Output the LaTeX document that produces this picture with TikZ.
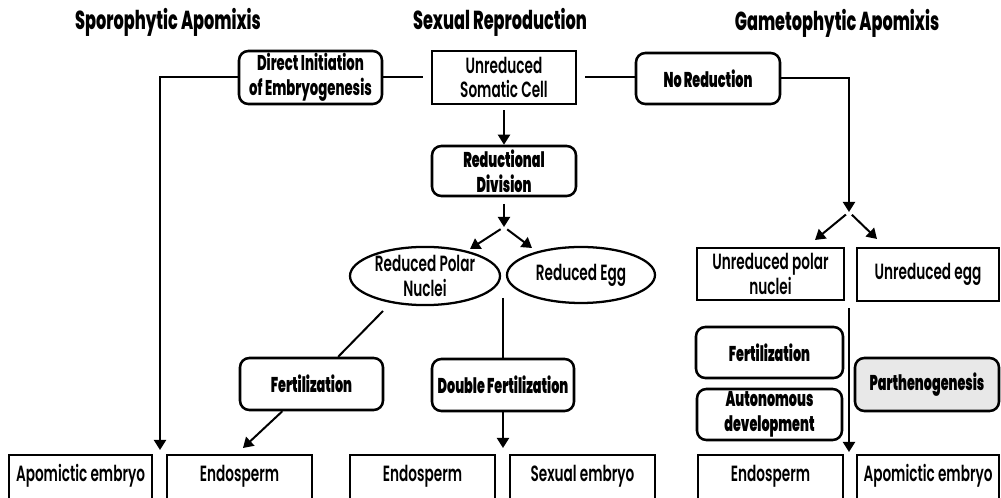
\documentclass[tikz,border=0pt]{standalone}
\usepackage{fontspec}
\setmainfont{Poppins}[FakeStretch=0.65]
\newfontfamily\heavyfont{Poppins Black}[FakeStretch=0.6]
\newfontfamily\titlefont{Poppins ExtraBold}[FakeStretch=0.62]
\newfontfamily\medfont{Poppins SemiBold}[FakeStretch=0.62]
\usetikzlibrary{arrows.meta,shapes.geometric}
\begin{document}
\begin{tikzpicture}[x=0.75pt,y=-0.75pt,
 ln/.style={line width=1.5pt},
 arr/.style={ln,-{Triangle[width=9pt,length=7.5pt]}},
 rbox/.style={draw,line width=1.9pt,rounded corners=7pt,inner sep=0pt,align=center},
 sbox/.style={draw,line width=1.6pt,inner sep=0pt,align=center},
 oval/.style={draw,ellipse,line width=1.7pt,inner sep=0pt,align=center},
 sz/.style 2 args={minimum width=#1*0.75pt,minimum height=#2*0.75pt},
 heavy/.style={font=\heavyfont\fontsize{16}{18.5}\selectfont},
 semi/.style={font=\titlefont\fontsize{16}{18.5}\selectfont},
 med/.style={font=\medfont\fontsize{16.5}{18.5}\selectfont},
 bottom/.style={sbox,med,sz={145}{50},text height=8pt,text depth=6pt},
 ttl/.style={font=\titlefont\fontsize{19.5}{22}\selectfont}]
\useasboundingbox (0,0) rectangle (1001,498);
\clip (0,0) rectangle (1001,498);

% titles
\node[ttl] (t1) at (168,22) {Sporophytic Apomixis};
\node[ttl] (t2) at (500,22) {Sexual Reproduction};
\node[ttl] (t3) at (837,23) {Gametophytic Apomixis};

% boxes
\node[rbox,semi,sz={143}{53}] (dir) at (310.5,77.5) {Direct Initiation\\of Embryogenesis};
\node[sbox,med,sz={144}{53}] (som) at (504,77.5) {Unreduced\\Somatic Cell};
\node[rbox,heavy,sz={144}{51}] (nored) at (708,78.5) {No Reduction};
\node[rbox,heavy,sz={144}{50}] (red) at (504,171) {Reductional\\Division};
\node[oval,med,sz={150}{58}] (pol) at (425,276) {Reduced Polar\\Nuclei};
\node[oval,med,sz={148}{56}] (egg) at (581,275) {Reduced Egg};
\node[rbox,heavy,sz={143}{52}] (fert1) at (311.5,384) {Fertilization};
\node[rbox,heavy,sz={142}{52}] (dfert) at (503,385) {Double Fertilization};
\node[sbox,med,sz={147}{52}] (upol) at (770.5,274) {Unreduced polar\\nuclei};
\node[sbox,med,sz={142}{53}] (uegg) at (928,274.5) {Unreduced egg};
\node[rbox,heavy,sz={147}{51}] (fert2) at (769.5,352.5) {Fertilization};
\node[rbox,heavy,sz={145}{51}] (auto) at (769.5,414.5) {Autonomous\\development};
\node[rbox,heavy,fill=gray!18,sz={144}{53}] (parth) at (927,384.5) {Parthenogenesis};

% bottom row
\node[bottom,sz={143}{50}] (apo1) at (80.5,480) {Apomictic embryo};
\node[bottom] (endo1) at (239.5,480) {Endosperm};
\node[bottom] (endo2) at (422.5,480) {Endosperm};
\node[bottom] (sexe) at (582.5,480) {Sexual embryo};
\node[bottom] (endo3) at (770.5,480) {Endosperm};
\node[bottom,sz={142}{50}] (apo2) at (928,480) {Apomictic embryo};

% free ends
\coordinate (a1) at (160,450);
\coordinate (s2) at (849,212);
\coordinate (s2l) at (815,240);
\coordinate (s2r) at (877,239);
\coordinate (s1) at (504,227);
\coordinate (s1l) at (470,249);
\coordinate (s1r) at (532,248);
\coordinate (p1) at (383,311);
\coordinate (e1) at (243,448);
\coordinate (v1) at (503,298);
\coordinate (d1) at (503,448);
\coordinate (v2) at (849,308);
\coordinate (v2e) at (849,452);

% connectors
\draw[ln,shorten >=6pt] (dir.east) -- (som.west);
\draw[ln,shorten <=6pt] (som.east) -- (som.east -| nored.west);
\draw[arr] (dir.west) -| (a1);
\draw[arr] (nored.east) -| (s2);
\draw[arr,shorten <=3pt] (s2) -- (s2l);
\draw[arr,shorten <=3pt] (s2) -- (s2r);
\draw[arr,shorten <=4pt] (som.south) -- (red.north);
\draw[arr,shorten <=5pt] (red.south) -- (s1);
\draw[arr,shorten <=3pt] (s1) -- (s1l);
\draw[arr,shorten <=3pt] (s1) -- (s1r);
\draw[ln] (p1) -- (fert1);
\draw[arr] (fert1) -- (e1);
\draw[ln] (v1) -- (v1 |- dfert.north);
\draw[arr] (dfert.south -| d1) -- (d1);
\draw[arr] (v2) -- (v2e);
\end{tikzpicture}
\end{document}
